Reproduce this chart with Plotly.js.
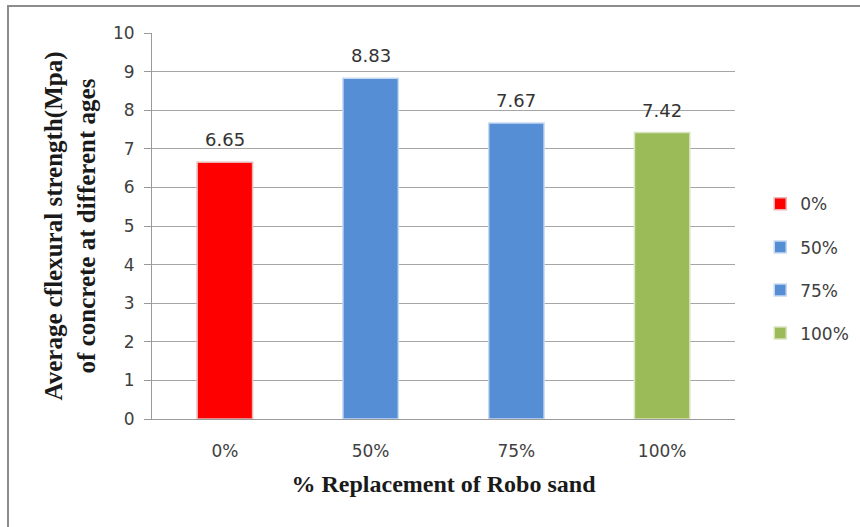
<!DOCTYPE html>
<html>
<head>
<meta charset="utf-8">
<script src="https://cdn.plot.ly/plotly-3.0.1.min.js"></script>
<style>
  html, body { margin: 0; padding: 0; background: #fff; }
  #chart { width: 860px; height: 527px; }
</style>
</head>
<body>
<div id="chart"></div>
<script>
const categories = ["0%", "50%", "75%", "100%"];
const values = [6.65, 8.83, 7.67, 7.42];
const labels = ["6.65", "8.83", "7.67", "7.42"];
const seriesNames = ["0%", "50%", "75%", "100%"];
const colors = ["#FF0000", "#558ED5", "#558ED5", "#9BBB59"];
const edgeColors = ["#E9B3B3", "#C6D9F1", "#C6D9F1", "#D7E4BD"];
const yTicks = [0, 1, 2, 3, 4, 5, 6, 7, 8, 9, 10];

const tickFont = { family: "'DejaVu Sans', sans-serif", size: 17, color: "#404040" };
const serif = "'Liberation Serif', 'Times New Roman', serif";

const traces = categories.map((c, i) => ({
  type: "bar",
  name: seriesNames[i],
  legendgroup: "g" + i,
  x: [c],
  y: [values[i]],
  width: 0.38,
  marker: { color: colors[i], line: { color: edgeColors[i], width: 1.5 } },
  hoverinfo: "x+y"
}));

const annotations = categories.map((c, i) => ({
  x: c, y: values[i], xref: "x", yref: "y",
  text: labels[i], showarrow: false,
  yanchor: "bottom", yshift: 10,
  font: { family: tickFont.family, size: 18, color: "#333333" }
}));

const layout = {
  width: 860, height: 527,
  margin: { l: 152, r: 125, t: 33, b: 108, pad: 0, autoexpand: false },
  paper_bgcolor: "#ffffff",
  plot_bgcolor: "#ffffff",
  barmode: "overlay",
  showlegend: true,
  legend: {
    xref: "container", yref: "container",
    x: 0.884, y: 0.49, xanchor: "left", yanchor: "middle",
    font: tickFont,
    traceorder: "grouped",
    tracegroupgap: 18,
    itemwidth: 30,
    bgcolor: "rgba(0,0,0,0)"
  },
  xaxis: {
    type: "category",
    categoryorder: "array",
    categoryarray: categories,
    range: [-0.5, 3.5],
    showgrid: false,
    showline: true, linecolor: "#9a9a9a", linewidth: 1,
    ticks: "",
    tickfont: tickFont,
    ticklabelstandoff: 17,
    zeroline: false,
    fixedrange: true,
    title: { text: "<b>% Replacement of Robo sand</b>", font: { family: serif, size: 24, color: "#1a1a1a" }, standoff: 14 }
  },
  yaxis: {
    range: [0, 10],
    tickvals: yTicks,
    ticktext: yTicks.map(String),
    showgrid: true, gridcolor: "#a6a6a6", gridwidth: 1,
    showline: true, linecolor: "#9a9a9a", linewidth: 1,
    ticks: "outside", ticklen: 7, tickcolor: "#9a9a9a",
    ticklabelstandoff: 6,
    tickfont: tickFont,
    zeroline: false,
    fixedrange: true,
    title: {
      text: "<b>Average cflexural strength(Mpa)<br>of concrete at different ages</b>",
      font: { family: serif, size: 25, color: "#1a1a1a" }, standoff: 10
    }
  },
  annotations: annotations,
  shapes: [{
    type: "rect", xref: "paper", yref: "paper",
    x0: -0.247, x1: 1.25, y0: -0.33, y1: 1.07,
    line: { color: "#8c8c8c", width: 2 },
    fillcolor: "rgba(0,0,0,0)", layer: "below"
  }]
};

Plotly.newPlot("chart", traces, layout, { displayModeBar: false, staticPlot: true });
</script>
</body>
</html>
